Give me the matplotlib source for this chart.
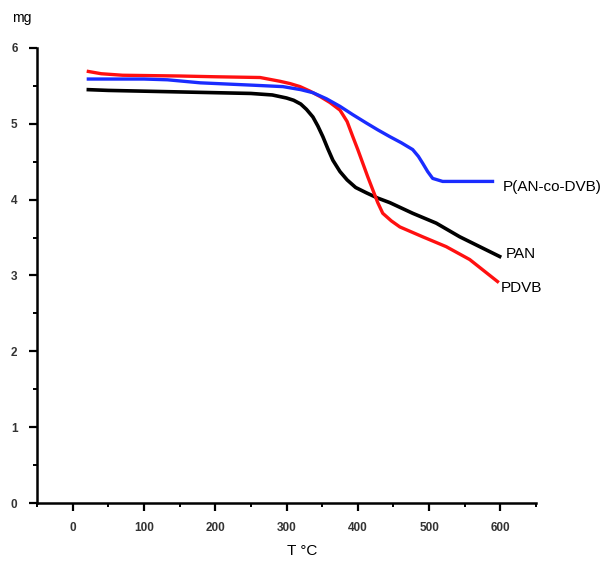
import matplotlib
matplotlib.use("Agg")
from matplotlib import pyplot as plt
from matplotlib.ticker import MultipleLocator

plt.rcParams['font.family'] = ['Liberation Sans', 'DejaVu Sans']

# TGA curves: temperature (C) vs sample mass (mg)
pan_t = [22, 50, 100, 150, 200, 250, 280, 300, 310, 320, 328, 337, 344, 351, 358, 365, 375, 385, 397, 412, 428, 445, 477, 510, 543, 571, 599]
pan_m = [5.45, 5.44, 5.43, 5.42, 5.41, 5.40, 5.38, 5.34, 5.31, 5.26, 5.19, 5.09, 4.97, 4.83, 4.67, 4.52, 4.37, 4.26, 4.16, 4.09, 4.02, 3.96, 3.82, 3.69, 3.51, 3.38, 3.25]

pdvb_t = [22, 40, 70, 150, 200, 263, 291, 305, 319, 333, 347, 361, 375, 385, 393, 400, 407, 414, 421, 428, 435, 447, 459, 491, 524, 557, 596]
pdvb_m = [5.69, 5.66, 5.64, 5.63, 5.62, 5.61, 5.56, 5.53, 5.49, 5.43, 5.36, 5.28, 5.18, 5.03, 4.83, 4.66, 4.48, 4.30, 4.13, 3.96, 3.82, 3.72, 3.64, 3.51, 3.38, 3.21, 2.92]

copo_t = [22, 100, 133, 179, 250, 295, 320, 337, 356, 375, 393, 412, 428, 445, 461, 477, 485, 491, 498, 505, 519, 589]
copo_m = [5.59, 5.59, 5.58, 5.54, 5.51, 5.49, 5.45, 5.41, 5.33, 5.23, 5.12, 5.01, 4.92, 4.83, 4.75, 4.66, 4.57, 4.48, 4.37, 4.28, 4.24, 4.24]

fig = plt.figure(figsize=(6.1, 5.66), dpi=100)
ax = fig.add_axes([0.0607, 0.1113, 0.818, 0.804])

ax.plot(pan_t, pan_m, color="black", linewidth=2.6)
ax.plot(pdvb_t, pdvb_m, color="#ff1010", linewidth=2.4)
ax.plot(copo_t, copo_m, color="#1a2cff", linewidth=2.4)

ax.text(603, 4.17, "P(AN-co-DVB)", fontsize=11, va="center", ha="left")
ax.text(608, 3.28, "PAN", fontsize=11, va="center", ha="left")
ax.text(601, 2.84, "PDVB", fontsize=11, va="center", ha="left")

ax.set_xlim(-50, 650)
ax.set_ylim(0, 6)
ax.xaxis.set_major_locator(MultipleLocator(100))
ax.xaxis.set_minor_locator(MultipleLocator(50))
ax.yaxis.set_major_locator(MultipleLocator(1))
ax.yaxis.set_minor_locator(MultipleLocator(0.5))

for s in ["top", "right"]:
    ax.spines[s].set_visible(False)
for s in ["left", "bottom"]:
    ax.spines[s].set_linewidth(1.8)

ax.tick_params(which="major", length=6, width=1.6, labelsize=8.5, labelcolor="#333333", pad=8)
ax.tick_params(which="minor", length=3, width=1.4)
for lbl in ax.get_xticklabels() + ax.get_yticklabels():
    lbl.set_fontweight("bold")

fig.text(0.495, 0.015, "T °C", fontsize=11, ha="center", va="bottom")
fig.text(0.02, 0.955, "mg", fontsize=10, ha="left", va="bottom")

fig.savefig("out.png", dpi=100)
